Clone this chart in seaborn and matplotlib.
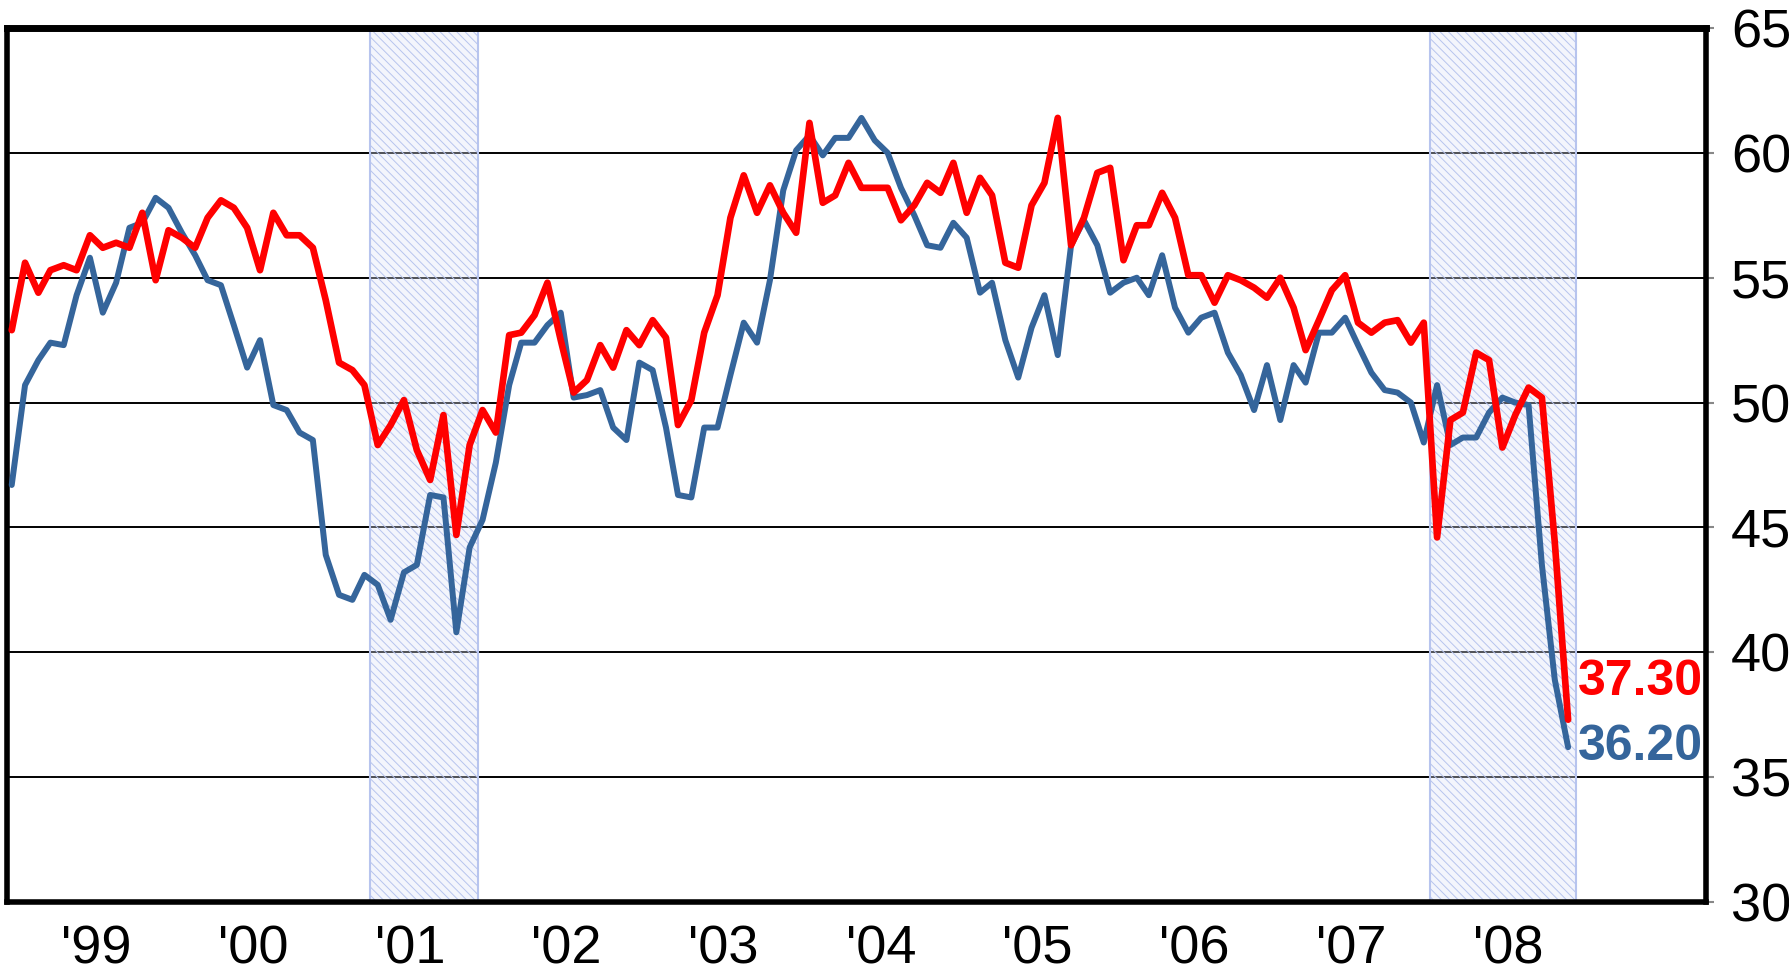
import pandas as pd
import numpy as np
import matplotlib
matplotlib.use("Agg")
import matplotlib.pyplot as plt
import seaborn as sns


# monthly readings, Dec 1998 .. Nov 2008
months = pd.date_range("1998-12-01", periods=120, freq="MS")

# blue line - ISM manufacturing
manufacturing = [
    46.7,
    50.7, 51.7, 52.4, 52.3, 54.3, 55.8, 53.6, 54.8, 57.0, 57.2, 58.2, 57.8,
    56.8, 55.9, 54.9, 54.7, 53.1, 51.4, 52.5, 49.9, 49.7, 48.8, 48.5, 43.9,
    42.3, 42.1, 43.1, 42.7, 41.3, 43.2, 43.5, 46.3, 46.2, 40.8, 44.2, 45.3,
    47.6, 50.7, 52.4, 52.4, 53.1, 53.6, 50.2, 50.3, 50.5, 49.0, 48.5, 51.6,
    51.3, 49.0, 46.3, 46.2, 49.0, 49.0, 51.1, 53.2, 52.4, 54.9, 58.5, 60.1,
    60.7, 59.9, 60.6, 60.6, 61.4, 60.5, 60.0, 58.6, 57.5, 56.3, 56.2, 57.2,
    56.6, 54.4, 54.8, 52.5, 51.0, 53.0, 54.3, 51.9, 56.3, 57.3, 56.3, 54.4,
    54.8, 55.0, 54.3, 55.9, 53.8, 52.8, 53.4, 53.6, 52.0, 51.1, 49.7, 51.5,
    49.3, 51.5, 50.8, 52.8, 52.8, 53.4, 52.3, 51.2, 50.5, 50.4, 50.0, 48.4,
    50.7, 48.3, 48.6, 48.6, 49.6, 50.2, 50.0, 49.9, 43.5, 38.9, 36.2,
]

# red line - ISM non-manufacturing
non_manufacturing = [
    52.9,
    55.6, 54.4, 55.3, 55.5, 55.3, 56.7, 56.2, 56.4, 56.2, 57.6, 54.9, 56.9,
    56.6, 56.2, 57.4, 58.1, 57.8, 57.0, 55.3, 57.6, 56.7, 56.7, 56.2, 54.1,
    51.6, 51.3, 50.7, 48.3, 49.1, 50.1, 48.1, 46.9, 49.5, 44.7, 48.3, 49.7,
    48.8, 52.7, 52.8, 53.5, 54.8, 52.5, 50.4, 50.9, 52.3, 51.4, 52.9, 52.3,
    53.3, 52.6, 49.1, 50.1, 52.8, 54.3, 57.4, 59.1, 57.6, 58.7, 57.6, 56.8,
    61.2, 58.0, 58.3, 59.6, 58.6, 58.6, 58.6, 57.3, 57.9, 58.8, 58.4, 59.6,
    57.6, 59.0, 58.3, 55.6, 55.4, 57.9, 58.8, 61.4, 56.3, 57.4, 59.2, 59.4,
    55.7, 57.1, 57.1, 58.4, 57.4, 55.1, 55.1, 54.0, 55.1, 54.9, 54.6, 54.2,
    55.0, 53.8, 52.1, 53.3, 54.5, 55.1, 53.2, 52.8, 53.2, 53.3, 52.4, 53.2,
    44.6, 49.3, 49.6, 52.0, 51.7, 48.2, 49.5, 50.6, 50.2, 44.4, 37.3,
]

year_labels = ["'99", "'00", "'01", "'02", "'03", "'04", "'05", "'06", "'07", "'08"]
label_dates = pd.to_datetime([f"{y}-06-15" for y in range(1999, 2009)])

# recession bands (shaded)
recessions = [("2001-03-14", "2001-11-21"), ("2007-12-16", "2008-11-19")]

y_ticks = [30, 35, 40, 45, 50, 55, 60, 65]

BLUE = "#35659b"
RED = "#ff0000"

df = pd.DataFrame({"month": months,
                   "manufacturing": manufacturing,
                   "non_manufacturing": non_manufacturing})

sns.set_style("white")
plt.rcParams["font.family"] = ["Liberation Sans", "DejaVu Sans"]
plt.rcParams["hatch.linewidth"] = 0.7
plt.rcParams["text.color"] = "black"
plt.rcParams["xtick.color"] = "black"
plt.rcParams["ytick.color"] = "black"

fig = plt.figure(figsize=(17.9, 9.72), dpi=100)
ax = fig.add_axes([7 / 1790, 70 / 972, 1699 / 1790, 874 / 972])

for start, end in recessions:
    # faint tint underneath, hatch on top
    ax.axvspan(pd.Timestamp(start), pd.Timestamp(end), facecolor="#dfe5f7",
               alpha=0.35, lw=0, zorder=1.4)
    ax.axvspan(pd.Timestamp(start), pd.Timestamp(end), facecolor="none",
               edgecolor="#b7c4ee", hatch="\\\\\\\\", lw=1.5, zorder=1.5)

sns.lineplot(data=df, x="month", y="manufacturing", color=BLUE, lw=4.3,
             ax=ax, zorder=3, solid_joinstyle="round")
sns.lineplot(data=df, x="month", y="non_manufacturing", color=RED, lw=4.8,
             ax=ax, zorder=4, solid_joinstyle="round")

# last values
ax.annotate(f"{non_manufacturing[-1]:.2f}", xy=(months[-1], non_manufacturing[-1]),
            xytext=(7, 27), textcoords="offset points", color=RED,
            fontsize=36, fontweight="bold", ha="left", va="center")
ax.annotate(f"{manufacturing[-1]:.2f}", xy=(months[-1], manufacturing[-1]),
            xytext=(7, 0), textcoords="offset points", color=BLUE,
            fontsize=36, fontweight="bold", ha="left", va="center")

ax.set_ylim(30, 65)
ax.set_xlim(pd.Timestamp("1998-11-20"), pd.Timestamp("2009-09-18"))
ax.set_yticks(y_ticks)
ax.set_xticks(label_dates)
ax.set_xticklabels(year_labels)
ax.set_xlabel("")
ax.set_ylabel("")

ax.yaxis.grid(True, color="black", lw=1.4)
ax.set_axisbelow(True)

ax.yaxis.tick_right()
ax.tick_params(axis="y", labelsize=39, length=6, width=1.5, color="#888888",
               labelcolor="black", pad=12, direction="out", left=False, right=True)
ax.tick_params(axis="x", labelsize=39, length=0, pad=16, labelcolor="black")

for side in ["left", "right", "top", "bottom"]:
    ax.spines[side].set_visible(True)
    ax.spines[side].set_color("black")
    ax.spines[side].set_linewidth(4)
ax.spines["top"].set_linewidth(5)

fig.savefig("out.png", dpi=100)
